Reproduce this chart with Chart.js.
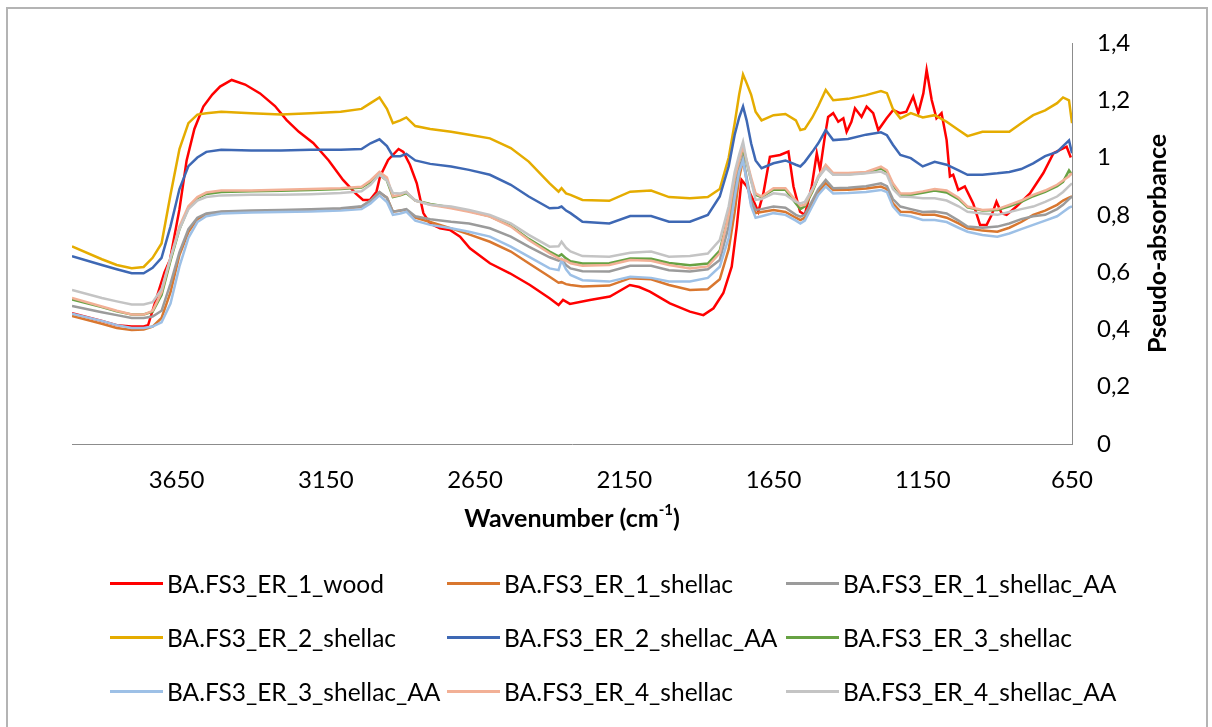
<!DOCTYPE html>
<html>
  <head>
    <title>FTIR spectra - BA.FS3</title>
    <script src="https://cdn.jsdelivr.net/npm/chart.js"></script>
    <style>
      body { margin: 0; background: #fff; }
      #wrap { position: relative; width: 1212px; height: 727px; overflow: hidden; }
      #frame { position: absolute; left: 6px; top: 7px; width: 1198px; height: 740px; border: 2px solid #b4b4b4; }
      #spectra-chart { position: absolute; left: 0; top: 0; }
      .legend-item { position: absolute; height: 30px; display: flex; align-items: center;
        font-family: Lato, "Liberation Sans", sans-serif; font-size: 24.5px; color: #000; white-space: nowrap; }
      .legend-line { display: inline-block; width: 53px; height: 3px; margin-right: 4px; }
    </style>
  </head>
  <body>
    <div id="wrap">
      <canvas id="spectra-chart" width="1212" height="727"></canvas>
      <div id="frame"></div>
      <div id="legend"></div>
    </div>

    <script>
      // Wavenumber grid shared by the shellac spectra (cm-1)
      const waveNumbers = [
        4000, 3900, 3850, 3800, 3760, 3730, 3700, 3670, 3640, 3610,
        3580, 3550, 3500, 3400, 3300, 3200, 3100, 3030, 3000, 2970,
        2945, 2925, 2900, 2880, 2850, 2800, 2730, 2670, 2600, 2530,
        2470, 2400, 2370, 2360, 2345, 2330, 2290, 2200, 2130, 2060,
        2000, 1930, 1870, 1830, 1800, 1780, 1765, 1752, 1740, 1725,
        1710, 1690, 1650, 1610, 1575, 1560, 1545, 1520, 1500, 1475,
        1450, 1400, 1340, 1290, 1270, 1250, 1225, 1190, 1150, 1110,
        1070, 1030, 1000, 950, 900, 860, 820, 780, 740, 700,
        680, 660, 650
      ];

      const er1Shellac = [
        0.447, 0.42, 0.405, 0.398, 0.40, 0.41, 0.44, 0.53, 0.66, 0.74,
        0.785, 0.80, 0.81, 0.812, 0.814, 0.817, 0.82, 0.828, 0.848, 0.878,
        0.86, 0.811, 0.815, 0.818, 0.79, 0.775, 0.753, 0.732, 0.706, 0.672,
        0.631, 0.584, 0.563, 0.565, 0.558, 0.555, 0.55, 0.553, 0.579, 0.575,
        0.555, 0.538, 0.54, 0.575, 0.68, 0.81, 0.93, 0.992, 0.92, 0.84,
        0.806, 0.81, 0.817, 0.81, 0.79, 0.782, 0.79, 0.84, 0.88, 0.91,
        0.887, 0.888, 0.892, 0.899, 0.89, 0.84, 0.811, 0.81, 0.80, 0.80,
        0.79, 0.77, 0.753, 0.745, 0.741, 0.755, 0.775, 0.80, 0.815, 0.835,
        0.85, 0.86, 0.864
      ];

      const er1ShellacAA = [
        0.482, 0.46, 0.45, 0.44, 0.44, 0.445, 0.465, 0.56, 0.67, 0.75,
        0.79, 0.805, 0.812, 0.815, 0.817, 0.82, 0.823, 0.83, 0.85, 0.88,
        0.86, 0.811, 0.815, 0.82, 0.795, 0.785, 0.776, 0.770, 0.753, 0.724,
        0.689, 0.652, 0.64, 0.645, 0.625, 0.613, 0.603, 0.602, 0.622, 0.622,
        0.607, 0.602, 0.61, 0.642, 0.76, 0.89, 0.96, 1.003, 0.93, 0.85,
        0.817, 0.82, 0.829, 0.825, 0.80, 0.794, 0.80, 0.85, 0.89, 0.922,
        0.893, 0.895, 0.90, 0.91, 0.90, 0.855, 0.829, 0.82, 0.81, 0.812,
        0.805, 0.78, 0.759, 0.755, 0.759, 0.77, 0.785, 0.795, 0.80, 0.82,
        0.835, 0.855, 0.864
      ];

      const er2Shellac = [
        0.69, 0.645, 0.625, 0.614, 0.618, 0.65, 0.70, 0.87, 1.03, 1.12,
        1.15, 1.155, 1.16, 1.155, 1.15, 1.155, 1.16, 1.17, 1.19, 1.21,
        1.17, 1.12, 1.13, 1.14, 1.11, 1.10, 1.09, 1.08, 1.067, 1.033,
        0.986, 0.91, 0.881, 0.893, 0.875, 0.87, 0.852, 0.849, 0.881, 0.885,
        0.862, 0.858, 0.862, 0.89, 1.0, 1.12, 1.22, 1.29, 1.26, 1.22,
        1.16, 1.13, 1.148, 1.152, 1.13, 1.096, 1.10, 1.14, 1.18, 1.236,
        1.20, 1.205, 1.218, 1.232, 1.225, 1.17, 1.137, 1.155, 1.14, 1.148,
        1.125, 1.096, 1.075, 1.09, 1.09, 1.09, 1.12, 1.148, 1.165, 1.19,
        1.21, 1.20, 1.12
      ];

      const er2ShellacAA = [
        0.656, 0.625, 0.61, 0.596, 0.596, 0.615, 0.65, 0.76, 0.89, 0.97,
        1.0, 1.02, 1.027, 1.025, 1.025, 1.027, 1.027, 1.03, 1.05, 1.064,
        1.04, 1.005, 1.005, 1.013, 0.99, 0.978, 0.969, 0.957, 0.94, 0.905,
        0.864, 0.823, 0.825, 0.829, 0.815, 0.806, 0.776, 0.770, 0.796, 0.796,
        0.776, 0.776, 0.80, 0.864, 0.97, 1.08, 1.14, 1.178, 1.13, 1.05,
        0.99, 0.963, 0.98, 0.99, 0.975, 0.969, 0.985, 1.02, 1.05, 1.096,
        1.061, 1.065, 1.08, 1.088, 1.078, 1.045, 1.009, 0.998, 0.969, 0.985,
        0.975, 0.955, 0.94, 0.94, 0.945, 0.95, 0.96, 0.98, 1.005, 1.02,
        1.04, 1.06, 1.015
      ];

      const er3Shellac = [
        0.505, 0.478, 0.463, 0.452, 0.452, 0.462, 0.52, 0.64, 0.75, 0.825,
        0.858, 0.873, 0.88, 0.882, 0.884, 0.887, 0.89, 0.895, 0.915, 0.94,
        0.92, 0.862, 0.868, 0.876, 0.85, 0.838, 0.826, 0.813, 0.795, 0.762,
        0.716, 0.672, 0.655, 0.662, 0.648, 0.638, 0.63, 0.631, 0.648, 0.647,
        0.632, 0.624, 0.63, 0.675, 0.80, 0.93, 0.99, 1.03, 0.985, 0.92,
        0.87, 0.862, 0.888, 0.888, 0.84, 0.82, 0.83, 0.88, 0.93, 0.97,
        0.942, 0.942, 0.947, 0.962, 0.95, 0.905, 0.87, 0.87, 0.877, 0.885,
        0.878, 0.855, 0.826, 0.815, 0.817, 0.83, 0.845, 0.865, 0.88, 0.9,
        0.915, 0.955, 0.94
      ];

      const er3ShellacAA = [
        0.455, 0.43, 0.415, 0.405, 0.405, 0.41, 0.425, 0.49, 0.62, 0.72,
        0.775, 0.795, 0.805, 0.808, 0.81, 0.812, 0.815, 0.82, 0.84, 0.868,
        0.845, 0.80, 0.805, 0.811, 0.78, 0.765, 0.753, 0.741, 0.724, 0.689,
        0.654, 0.613, 0.607, 0.642, 0.61, 0.59, 0.572, 0.567, 0.584, 0.58,
        0.567, 0.567, 0.58, 0.619, 0.72, 0.86, 0.95, 0.99, 0.92, 0.83,
        0.79, 0.795, 0.806, 0.80, 0.78, 0.77, 0.78, 0.83, 0.87, 0.899,
        0.875, 0.876, 0.88, 0.887, 0.88, 0.83, 0.80, 0.795, 0.782, 0.782,
        0.775, 0.755, 0.741, 0.73, 0.724, 0.735, 0.75, 0.765, 0.78, 0.795,
        0.81, 0.825, 0.83
      ];

      const er4Shellac = [
        0.51, 0.48, 0.465, 0.452, 0.452, 0.465, 0.53, 0.65, 0.76, 0.83,
        0.862, 0.878, 0.885, 0.885, 0.888, 0.89, 0.893, 0.898, 0.92, 0.95,
        0.93, 0.865, 0.87, 0.88, 0.85, 0.835, 0.823, 0.811, 0.794, 0.759,
        0.712, 0.666, 0.648, 0.645, 0.64, 0.631, 0.622, 0.625, 0.642, 0.640,
        0.625, 0.613, 0.62, 0.666, 0.80, 0.93, 0.99, 1.038, 0.99, 0.93,
        0.875, 0.864, 0.893, 0.893, 0.85, 0.832, 0.835, 0.885, 0.935, 0.975,
        0.946, 0.946, 0.95, 0.968, 0.955, 0.91, 0.875, 0.875, 0.882, 0.89,
        0.885, 0.86, 0.829, 0.817, 0.82, 0.835, 0.85, 0.87, 0.885, 0.905,
        0.92, 0.935, 0.946
      ];

      const er4ShellacAA = [
        0.538, 0.51, 0.498, 0.487, 0.487, 0.495, 0.54, 0.65, 0.75, 0.82,
        0.85, 0.862, 0.868, 0.87, 0.87, 0.872, 0.876, 0.882, 0.905, 0.94,
        0.92, 0.876, 0.875, 0.88, 0.85, 0.835, 0.829, 0.817, 0.80, 0.77,
        0.73, 0.689, 0.69, 0.706, 0.685, 0.672, 0.656, 0.654, 0.668, 0.672,
        0.654, 0.656, 0.665, 0.712, 0.83, 0.95, 1.01, 1.055, 0.99, 0.92,
        0.852, 0.855, 0.875, 0.87, 0.845, 0.84, 0.845, 0.89, 0.93, 0.963,
        0.94, 0.94, 0.945, 0.951, 0.94, 0.89, 0.864, 0.862, 0.858, 0.858,
        0.85, 0.83, 0.811, 0.805, 0.80, 0.81, 0.82, 0.829, 0.845, 0.864,
        0.88, 0.9, 0.91
      ];

      // The wood spectrum has sharper bands, so it gets its own grid
      const woodWaveNumbers = [
        4000, 3900, 3850, 3800, 3760, 3745, 3720, 3690, 3672, 3640,
        3616, 3590, 3560, 3530, 3504, 3465, 3420, 3370, 3320, 3281,
        3240, 3192, 3140, 3092, 3050, 3025, 3002, 2980, 2968, 2941,
        2906, 2890, 2868, 2845, 2823, 2801, 2767, 2734, 2700, 2667,
        2600, 2533, 2466, 2399, 2370, 2355, 2332, 2265, 2198, 2131,
        2100, 2064, 1997, 1930, 1885, 1851, 1818, 1790, 1773, 1757,
        1740, 1718, 1701, 1684, 1662, 1628, 1600, 1583, 1561, 1545,
        1522, 1505, 1494, 1478, 1467, 1450, 1433, 1416, 1405, 1389,
        1377, 1355, 1338, 1316, 1299, 1271, 1249, 1226, 1205, 1182,
        1165, 1148, 1137, 1120, 1104, 1087, 1070, 1059, 1048, 1031,
        1009, 981, 958, 936, 919, 903, 886, 869, 836, 791,
        746, 712, 690, 668, 654
      ];

      const er1Wood = [
        0.457, 0.43, 0.415, 0.41, 0.41, 0.415, 0.5, 0.6, 0.642, 0.82,
        0.99, 1.10, 1.178, 1.22, 1.248, 1.271, 1.255, 1.224, 1.18, 1.131,
        1.09, 1.051, 0.99, 0.922, 0.875, 0.852, 0.852, 0.881, 0.934, 0.992,
        1.03, 1.02, 0.975, 0.91, 0.806, 0.770, 0.753, 0.747, 0.724, 0.683,
        0.631, 0.596, 0.555, 0.508, 0.485, 0.503, 0.489, 0.503, 0.515, 0.555,
        0.548, 0.532, 0.491, 0.462, 0.450, 0.474, 0.527, 0.619, 0.759, 0.922,
        0.9, 0.852, 0.811, 0.875, 1.003, 1.009, 1.021, 0.899, 0.811, 0.80,
        0.899, 1.015, 0.957, 1.073, 1.142, 1.155, 1.125, 1.137, 1.09, 1.125,
        1.172, 1.142, 1.178, 1.155, 1.096, 1.137, 1.166, 1.155, 1.16, 1.213,
        1.155, 1.224, 1.306, 1.201, 1.137, 1.155, 1.061, 0.934, 0.94, 0.887,
        0.899, 0.84, 0.765, 0.765, 0.8, 0.846, 0.806, 0.8, 0.829, 0.875,
        0.946, 1.015, 1.027, 1.038, 1.0
      ];

      const seriesNames = [
        'BA.FS3_ER_1_wood', 'BA.FS3_ER_1_shellac', 'BA.FS3_ER_1_shellac_AA',
        'BA.FS3_ER_2_shellac', 'BA.FS3_ER_2_shellac_AA', 'BA.FS3_ER_3_shellac',
        'BA.FS3_ER_3_shellac_AA', 'BA.FS3_ER_4_shellac', 'BA.FS3_ER_4_shellac_AA'
      ];
      const seriesColors = [
        '#ff0000', '#d9772f', '#9b9b9b',
        '#e5ac00', '#3e68b4', '#67a243',
        '#9dc0e6', '#f2b096', '#c4c4c4'
      ];
      const xTicks = [3650, 3150, 2650, 2150, 1650, 1150, 650];
      const yTicks = [0, 0.2, 0.4, 0.6, 0.8, 1, 1.2, 1.4];

      const FONT = 'Lato, "Liberation Sans", sans-serif';

      const toPoints = (xs, ys) => xs.map((x, i) => ({ x: x, y: ys[i] }));
      const seriesPoints = [
        toPoints(woodWaveNumbers, er1Wood),
        toPoints(waveNumbers, er1Shellac),
        toPoints(waveNumbers, er1ShellacAA),
        toPoints(waveNumbers, er2Shellac),
        toPoints(waveNumbers, er2ShellacAA),
        toPoints(waveNumbers, er3Shellac),
        toPoints(waveNumbers, er3ShellacAA),
        toPoints(waveNumbers, er4Shellac),
        toPoints(waveNumbers, er4ShellacAA)
      ];

      const datasets = seriesNames.map((name, i) => ({
        label: name,
        data: seriesPoints[i],
        borderColor: seriesColors[i],
        backgroundColor: seriesColors[i],
        borderWidth: 2.5,
        pointRadius: 0,
        tension: 0,
        fill: false,
        order: seriesNames.length - i   // later series painted on top
      }));

      // Axis titles: x title carries a superscript, y title reads bottom-to-top on the right side
      const axisTitles = {
        id: 'axisTitles',
        afterDraw(chart) {
          const { ctx, chartArea } = chart;
          ctx.save();
          ctx.fillStyle = '#000';
          ctx.textBaseline = 'middle';

          const main = 'Wavenumber (cm';
          const sup = '-1';
          const tail = ')';
          ctx.font = 'bold 25px ' + FONT;
          const wMain = ctx.measureText(main).width;
          const wTail = ctx.measureText(tail).width;
          ctx.font = 'bold 15px ' + FONT;
          const wSup = ctx.measureText(sup).width;
          const total = wMain + wSup + wTail;
          let x = (chartArea.left + chartArea.right) / 2 - total / 2;
          const y = 519;
          ctx.textAlign = 'left';
          ctx.font = 'bold 25px ' + FONT;
          ctx.fillText(main, x, y);
          x += wMain;
          ctx.font = 'bold 15px ' + FONT;
          ctx.fillText(sup, x, y - 9);
          x += wSup;
          ctx.font = 'bold 25px ' + FONT;
          ctx.fillText(tail, x, y);

          ctx.translate(1158, (chartArea.top + chartArea.bottom) / 2);
          ctx.rotate(-Math.PI / 2);
          ctx.textAlign = 'center';
          ctx.fillText('Pseudo-absorbance', 0, 0);
          ctx.restore();
        }
      };

      const formatComma = (v) => String(Math.round(v * 10) / 10).replace('.', ',');

      const spectraChart = new Chart(document.getElementById('spectra-chart'), {
        type: 'line',
        data: { datasets: datasets },
        options: {
          responsive: false,
          animation: false,
          devicePixelRatio: 1,
          layout: { padding: { left: 72, top: 43, right: 0, bottom: 0 } },
          plugins: {
            legend: { display: false },
            tooltip: { enabled: false }
          },
          scales: {
            x: {
              type: 'linear',
              reverse: true,
              min: 650,
              max: 4000,
              afterBuildTicks: (axis) => { axis.ticks = xTicks.map(v => ({ value: v })); },
              afterFit: (axis) => { axis.height = 283; },
              grid: { display: false, drawTicks: false },
              border: { display: true, color: '#8c8c8c', width: 1 },
              ticks: {
                autoSkip: false,
                maxRotation: 0,
                padding: 22,
                color: '#000',
                font: { family: FONT, size: 24 },
                callback: (v) => String(v)
              }
            },
            y: {
              position: 'right',
              min: 0,
              max: 1.4,
              afterBuildTicks: (axis) => { axis.ticks = yTicks.map(v => ({ value: v })); },
              afterFit: (axis) => { axis.width = 140; },
              grid: { display: false, drawTicks: false },
              border: { display: true, color: '#8c8c8c', width: 1 },
              ticks: {
                padding: 25,
                color: '#000',
                font: { family: FONT, size: 24 },
                callback: (v) => formatComma(v)
              }
            }
          }
        },
        plugins: [axisTitles]
      });

      // Legend laid out as a 3 x 3 grid under the plot
      const legendColumnX = [110, 447, 786];
      const legendRowY = [583, 637, 691];
      const legendBox = document.getElementById('legend');
      spectraChart.data.datasets.forEach((ds, i) => {
        const item = document.createElement('div');
        item.className = 'legend-item';
        item.style.left = legendColumnX[i % 3] + 'px';
        item.style.top = (legendRowY[Math.floor(i / 3)] - 15) + 'px';
        const line = document.createElement('span');
        line.className = 'legend-line';
        line.style.background = ds.borderColor;
        const text = document.createElement('span');
        text.textContent = ds.label;
        item.appendChild(line);
        item.appendChild(text);
        legendBox.appendChild(item);
      });
    </script>
  </body>
</html>
